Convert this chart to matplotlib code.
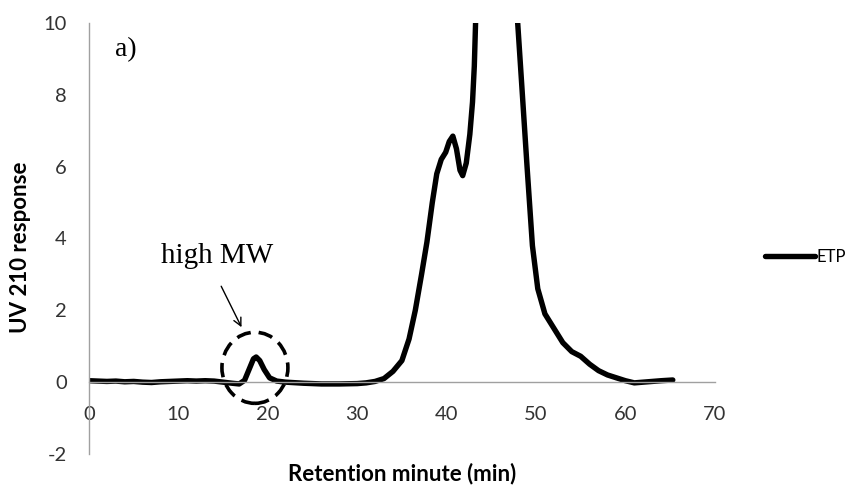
import matplotlib
matplotlib.use('Agg')
import matplotlib.pyplot as plt
from matplotlib.patches import Ellipse

plt.rcParams['axes.unicode_minus'] = False

# retention time (min) and UV 210 response for the ETP run
retention = [0, 1, 2, 3, 4, 5, 6, 7, 8, 9, 10, 11, 12, 13, 14, 15, 16, 16.8,
             17.4, 17.9, 18.4, 18.7, 19.1, 19.6, 20.2, 21, 22, 24, 26, 28, 30,
             31, 32, 33, 34, 35, 35.8, 36.5, 37.2, 37.8, 38.4, 38.9, 39.4,
             39.9, 40.3, 40.7, 41.1, 41.5, 41.8, 42.2, 42.6, 42.9, 43.1, 43.3,
             43.6, 44.5, 45.5, 46.5, 47.5, 47.9, 48.4, 49.0, 49.6, 50.2, 51,
             52, 53, 54, 55, 56, 57, 58, 59, 60, 61, 62, 63, 64, 65.3]
response = [0.04, 0.03, 0.02, 0.03, 0.01, 0.02, 0.00, -0.01, 0.01, 0.02, 0.03,
            0.04, 0.03, 0.04, 0.03, 0.00, -0.03, -0.05,
            0.05, 0.35, 0.65, 0.70, 0.60, 0.35, 0.12, 0.03, 0.00, -0.03, -0.05,
            -0.05, -0.04,
            -0.02, 0.02, 0.10, 0.30, 0.60, 1.2, 2.0, 3.0, 3.9, 5.0, 5.8, 6.2,
            6.4, 6.7, 6.85, 6.5, 5.9, 5.75, 6.1, 6.9, 7.8, 8.8, 10.5,
            14.0, 20.0, 22.0, 20.0, 13.0, 10.2, 8.3, 6.0, 3.8, 2.6, 1.9,
            1.5, 1.1, 0.85, 0.72, 0.50, 0.32, 0.20, 0.12, 0.04, -0.02, 0.00,
            0.02, 0.04, 0.06]

x_ticks = [0, 10, 20, 30, 40, 50, 60, 70]
y_ticks = [-2, 0, 2, 4, 6, 8, 10]

sans = ['Lato', 'DejaVu Sans']
serif = ['Liberation Serif', 'DejaVu Serif']

fig = plt.figure(figsize=(8.54, 4.87), dpi=100)
ax = fig.add_axes([0.1042, 0.0678, 0.7328, 0.885])

ax.plot(retention, response, color='black', linewidth=3.9,
        solid_joinstyle='round', solid_capstyle='round', label='ETP')

ax.set_xlim(0, 70)
ax.set_ylim(-2, 10)
ax.set_xticks(x_ticks)
ax.set_yticks(y_ticks)

# Excel-style axes: horizontal axis crosses at zero
for side in ['top', 'right']:
    ax.spines[side].set_visible(False)
ax.spines['bottom'].set_position(('data', 0))
ax.spines['bottom'].set_color('#a0a0a0')
ax.spines['left'].set_color('#a0a0a0')
ax.spines['bottom'].set_linewidth(1.0)
ax.spines['left'].set_linewidth(1.0)
ax.tick_params(axis='both', length=0, labelsize=14.5, colors='#333333')
ax.tick_params(axis='x', pad=17)
ax.tick_params(axis='y', pad=16)
for lbl in ax.get_xticklabels() + ax.get_yticklabels():
    lbl.set_family(sans)

ax.set_xlabel('Retention minute (min)', fontsize=16, fontweight='bold',
              family=sans, va='center')
ax.xaxis.set_label_coords(0.5, -0.045)
ax.set_ylabel('UV 210 response', fontsize=16, fontweight='bold', family=sans,
              va='center')
ax.yaxis.set_label_coords(-0.110, 0.479)

ax.text(2.9, 9.25, 'a)', fontsize=20, family=serif, va='center')
ax.text(8.0, 3.5, 'high MW', fontsize=21, family=serif, va='center')
ax.annotate('', xy=(17.2, 1.46), xytext=(14.65, 2.74),
            arrowprops=dict(arrowstyle='->', color='black', lw=1.0,
                            mutation_scale=14))
ax.add_patch(Ellipse((18.56, 0.40), 7.38, 1.98, fill=False, edgecolor='black',
                     linewidth=2.6, linestyle=(0, (4, 2.2))))

leg = ax.legend(loc='center left', bbox_to_anchor=(1.056, 0.457), frameon=False,
                prop={'family': sans, 'size': 12}, handlelength=3.0,
                handletextpad=0.1)

fig.savefig('out.png', dpi=100)
